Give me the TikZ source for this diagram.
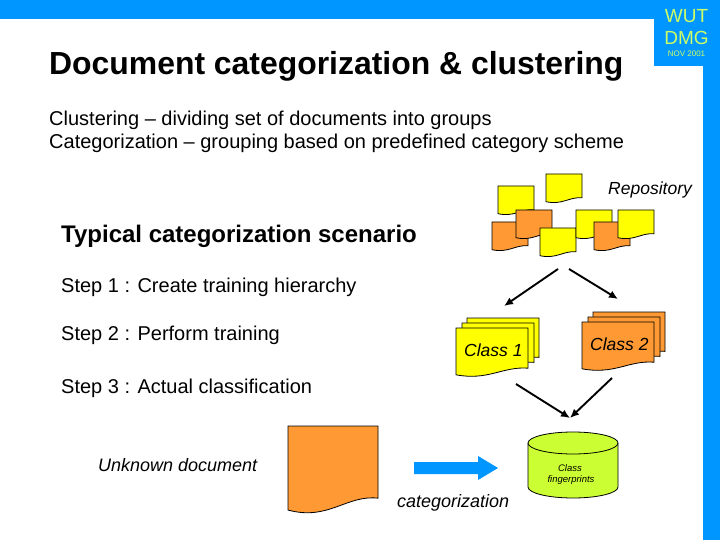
\documentclass[tikz,border=0pt]{standalone}
\usepackage{fontspec}
\setmainfont{Liberation Sans}
\usepackage{tikz}
\usetikzlibrary{arrows.meta,calc,positioning}
\definecolor{BandBlue}{RGB}{0,150,255}
\definecolor{SheetYellow}{RGB}{255,255,0}
\definecolor{SheetOrange}{RGB}{255,153,51}
\definecolor{DrumGreen}{RGB}{204,255,51}
\definecolor{BadgeGreen}{RGB}{204,255,102}
\newcommand{\fsz}[1]{\fontsize{#1}{#1}\selectfont}
\newcommand{\docsheet}[5]{%
  \draw[fill=#5,line width=0.8pt] (#1,#2) -- ++(#3,0) -- ++(0,0.82*#4)
    .. controls ($(#1,#2)+(0.65*#3,0.78*#4)$) and ($(#1,#2)+(0.45*#3,1.08*#4)$) .. ($(#1,#2)+(0,0.955*#4)$) -- cycle;}
\tikzset{
  txt/.style={anchor=base west,inner sep=0pt,text=black},
  flowarrow/.style={-{Latex[length=9pt,width=8pt]},line width=1.9pt},
}
\begin{document}
\begin{tikzpicture}[x=1pt,y=-1pt]
      \useasboundingbox (0,0) rectangle (720,540);
      % frame
      \fill[BandBlue] (0,0) -- (720,0) -- (720,540) -- (703,540) -- (703,66) -- (654,66) -- (654,19) -- (0,19) -- cycle;
      \node[inner sep=0pt,text=BadgeGreen,font=\fsz{19}] (wut) at (686.5,16) {WUT};
      \node[inner sep=0pt,text=BadgeGreen,font=\fsz{19}] (dmg) at (686.5,38) {DMG};
      \node[inner sep=0pt,text=BadgeGreen,font=\fsz{8}] (nov) at (686.5,54) {NOV 2001};
      % header
      \node[txt,font=\bfseries\fsz{31.9}] (title) at (49,75) {Document categorization \& clustering};
      \node[txt,font=\fsz{20}] (clust) at (49,126) {Clustering -- dividing set of documents into groups};
      \node[txt,font=\fsz{20}] (categ) at (49,149) {Categorization -- grouping based on predefined category scheme};
      \node[txt,font=\itshape\fsz{17.5}] (repo) at (608,195) {Repository};
      % left column
      \node[txt,font=\bfseries\fsz{24}] (scen) at (61,243) {Typical categorization scenario};
      \node[txt,font=\fsz{20}] (step1) at (61,292) {Step 1 : Create training hierarchy};
      \node[txt,font=\fsz{20}] (step2) at (61,340) {Step 2 : Perform training};
      \node[txt,font=\fsz{20}] (step3) at (61,393) {Step 3 : Actual classification};
      \node[txt,font=\itshape\fsz{18}] (unknown) at (98,471) {Unknown document};
      % repository
      \docsheet{498}{186}{36}{29}{SheetYellow}
      \docsheet{546}{174}{36}{29}{SheetYellow}
      \docsheet{492}{222}{36}{29}{SheetOrange}
      \docsheet{516}{210}{36}{29}{SheetOrange}
      \docsheet{540}{228}{36}{29}{SheetYellow}
      \docsheet{576}{210}{36}{29}{SheetYellow}
      \docsheet{594}{222}{36}{29}{SheetOrange}
      \docsheet{618}{210}{36}{29}{SheetYellow}
      % class stacks
      \docsheet{467}{318}{72}{48}{SheetYellow}
      \docsheet{462}{323}{72}{48}{SheetYellow}
      \docsheet{456}{328}{72}{49}{SheetYellow}
      \node[txt,font=\itshape\fsz{17.5}] (classa) at (464,356) {Class 1};
      \docsheet{593}{312}{72}{48}{SheetOrange}
      \docsheet{588}{317}{72}{48}{SheetOrange}
      \docsheet{582}{322}{72}{49}{SheetOrange}
      \node[txt,font=\itshape\fsz{17.5}] (classb) at (590,350) {Class 2};
      % connectors
      \coordinate (repoL) at (558,269);
      \coordinate (repoR) at (569,269);
      \coordinate (classaT) at (504,306);
      \coordinate (classbT) at (618,299);
      \coordinate (classaB) at (516,384);
      \coordinate (classbB) at (612,378);
      \coordinate (drumT) at (570,418);
      \draw[flowarrow] (repoL) -- (classaT);
      \draw[flowarrow] (repoR) -- (classbT);
      \draw[flowarrow] (classaB) -- (drumT);
      \draw[flowarrow] (classbB) -- (drumT);
      % fingerprints
      \draw[fill=DrumGreen,line width=0.8pt] (528,443) -- (528,487) arc[start angle=180,end angle=360,x radius=45,y radius=-11] -- (618,443);
      \draw[fill=DrumGreen,line width=0.8pt] (573,443) ellipse[x radius=45,y radius=11];
      \node[inner sep=0pt,font=\itshape\fsz{9.5}] (fingera) at (570,468) {Class};
      \node[inner sep=0pt,font=\itshape\fsz{9.5}] (fingerb) at (571,480) {fingerprints};
      % unknown document
      \docsheet{288}{426}{90}{88}{SheetOrange}
      \fill[BandBlue] (414,462) -- (478,462) -- (478,456) -- (498,468) -- (478,480) -- (478,474) -- (414,474) -- cycle;
      \node[txt,font=\itshape\fsz{18}] (catz) at (397,507) {categorization};
    \end{tikzpicture}
\end{document}
